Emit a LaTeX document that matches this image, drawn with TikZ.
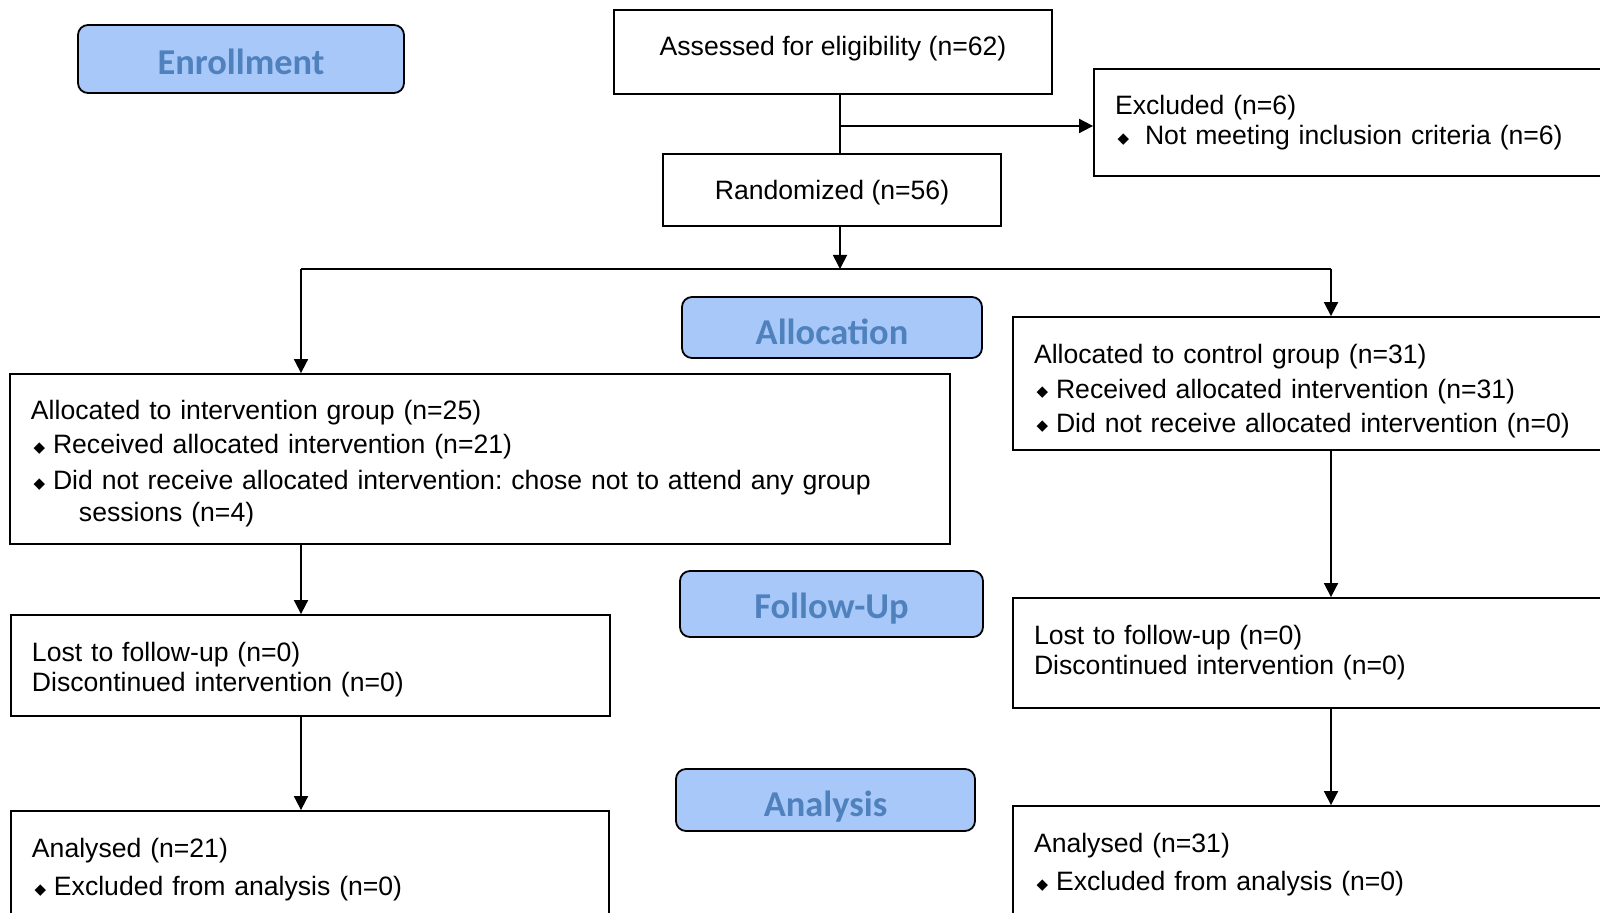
\documentclass[tikz,border=0pt]{standalone}
\usepackage{fontspec}
\setmainfont{Liberation Sans}
\newfontfamily\headfont{Carlito}
\newfontfamily\symfont{DejaVu Sans}
\usepackage{tikz}
\usetikzlibrary{arrows.meta,positioning}
\frenchspacing
\definecolor{headfill}{HTML}{A9C8FA}
\definecolor{headtext}{HTML}{4F81BD}
\newcommand{\bul}[1][11pt]{\makebox[#1][l]{\hspace{1.3pt}\raisebox{0.6pt}{\symfont\fontsize{7.5}{7.5}\selectfont ◆}}}
\newcommand{\lift}[1]{\rule{0pt}{#1}}
\newcommand{\nudge}[2]{\raisebox{#1}[\height][\depth]{#2}}

\begin{document}
\begin{tikzpicture}[x=0.5pt,y=-0.5pt,
	box/.style={draw,line width=0.9pt,rectangle,inner sep=0pt,font=\fontsize{13.3}{16}\selectfont},
	listbox/.style={box,align=left,inner xsep=10.5pt},
	head/.style={draw,line width=0.9pt,rounded corners=5pt,fill=headfill,text=headtext,inner sep=0pt,font=\headfont\bfseries\fontsize{18.2}{20}\selectfont},
	arr/.style={line width=0.9pt,-{Triangle[length=7pt,width=7pt]}},
	line/.style={line width=0.9pt}]
	\useasboundingbox (0,0) rectangle (1600,913);
	\clip (0,0) rectangle (1600,913);
	
	% phase labels
	\node[head,minimum width=163pt,minimum height=34pt] (enrol) at (241,59) {\nudge{-1.5pt}{Enrollment}};
	\node[head,minimum width=150pt,minimum height=30.5pt] (alloc) at (832,327.5) {\nudge{-2pt}{Allocation}};
	\node[head,minimum width=151.5pt,minimum height=33pt] (follow) at (831.5,604) {\nudge{-2.5pt}{Follow-Up}};
	\node[head,minimum width=149.5pt,minimum height=31pt] (analy) at (825.5,800) {\nudge{-3.5pt}{Analysis}};
	
	% boxes
	\node[box,minimum width=219pt,minimum height=42pt] (assess) at (833,52) {\nudge{1.5pt}{Assessed for eligibility (n=62)}};
	\node[listbox,minimum width=278pt,minimum height=53.5pt,text width=257pt] (excl) at (1372,122.5)
		{Excluded (n=6)\\[-1pt] \bul[15pt]Not meeting inclusion criteria (n=6)};
	\node[box,minimum width=169pt,minimum height=36pt] (rand) at (832,190) {\nudge{-1.5pt}{Randomized (n=56)}};
	
	\node[listbox,minimum width=470pt,minimum height=85pt,text width=449pt] (intv) at (480,459)
		{\lift{14.5pt}Allocated to intervention group (n=25)\\[1pt]
		\bul Received allocated intervention (n=21)\\[2pt]
		\bul Did not receive allocated intervention: chose not to attend any group\\
		\hspace*{24pt}sessions (n=4)};
	\node[listbox,minimum width=320pt,minimum height=66.5pt,text width=299pt] (ctrl) at (1333,383.5)
		{\lift{16.8pt}Allocated to control group (n=31)\\[1.5pt]
		\bul Received allocated intervention (n=31)\\[1pt]
		\bul Did not receive allocated intervention (n=0)};
	
	\node[listbox,minimum width=299.5pt,minimum height=50.5pt,text width=278.5pt] (lostl) at (310.5,665.5)
		{\lift{13.7pt}Lost to follow-up (n=0)\\[-1pt] Discontinued intervention (n=0)};
	\node[listbox,minimum width=320pt,minimum height=55pt,text width=299pt] (lostr) at (1333,653)
		{Lost to follow-up (n=0)\\[-1pt] Discontinued intervention (n=0)};
	
	\node[listbox,minimum width=299pt,minimum height=57pt,text width=278pt] (anl) at (310,868)
		{\lift{11.7pt}Analysed (n=21)\\[3pt] \bul Excluded from analysis (n=0)};
	\node[listbox,minimum width=320pt,minimum height=57pt,text width=299pt] (anr) at (1333,863)
		{\lift{11.7pt}Analysed (n=31)\\[3pt] \bul Excluded from analysis (n=0)};
	
	% connectors
	\coordinate (branch) at (840,126);
	\coordinate (split) at (840,269);
	\coordinate (lsplit) at (301,269);
	\coordinate (rsplit) at (1331,269);
	
	\draw[line] (assess.south -| branch) -- (rand.north -| branch);
	\draw[arr] (branch) -- (branch -| excl.west);
	\draw[arr] (rand.south -| split) -- (split);
	\draw[line] (lsplit) -- (rsplit);
	\draw[arr] (lsplit) -- (lsplit |- intv.north);
	\draw[arr] (rsplit) -- (rsplit |- ctrl.north);
	\draw[arr] (lsplit |- intv.south) -- (lsplit |- lostl.north);
	\draw[arr] (rsplit |- ctrl.south) -- (rsplit |- lostr.north);
	\draw[arr] (lsplit |- lostl.south) -- (lsplit |- anl.north);
	\draw[arr] (rsplit |- lostr.south) -- (rsplit |- anr.north);
	
\end{tikzpicture}
\end{document}
